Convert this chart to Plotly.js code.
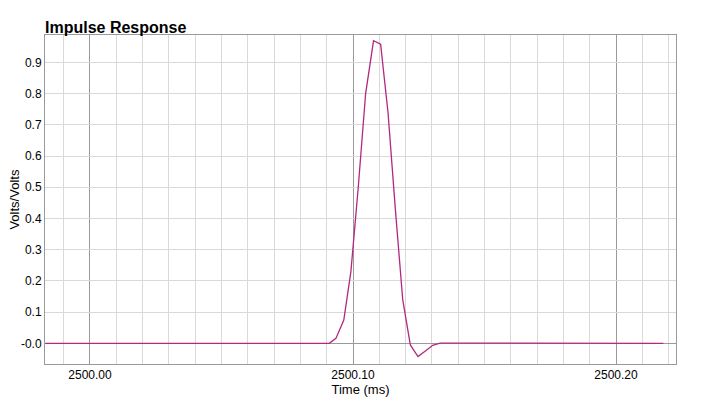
<!DOCTYPE html>
<html>
<head>
<meta charset="utf-8">
<script src="https://cdn.plot.ly/plotly-3.0.1.min.js"></script>
<style>html,body{margin:0;padding:0;background:#fff}#chart{width:709px;height:403px}</style>
</head>
<body>
<div id="chart"></div>
<script>
// Time (ms) and response (Volts/Volts)
const timeMs = [2499.9830, 2500.0910, 2500.0935, 2500.0965, 2500.0992, 2500.1020, 2500.1048,
  2500.1078, 2500.1105, 2500.1133, 2500.1161, 2500.1189, 2500.1218, 2500.1247, 2500.1274,
  2500.1303, 2500.1331, 2500.1357, 2500.1388, 2500.2180];
const response = [0, 0, 0.016, 0.075, 0.23, 0.50, 0.80,
  0.969, 0.958, 0.74, 0.43, 0.14, -0.005, -0.042, -0.025,
  -0.006, 0.001, 0.001, 0, 0];
const yTickVals = [0, 0.1, 0.2, 0.3, 0.4, 0.5, 0.6, 0.7, 0.8, 0.9];
const yTickText = ['-0.0', '0.1', '0.2', '0.3', '0.4', '0.5', '0.6', '0.7', '0.8', '0.9'];
const xTickVals = [2500.00, 2500.10, 2500.20];
const xTickText = ['2500.00', '2500.10', '2500.20'];

const font = 'Liberation Sans, Arial, sans-serif';
const trace = {
  x: timeMs, y: response, type: 'scatter', mode: 'lines',
  line: {color: '#b3287f', width: 1.3},
  hoverinfo: 'x+y'
};
const layout = {
  width: 709, height: 403,
  margin: {l: 45, r: 33, t: 35, b: 39},
  paper_bgcolor: '#fff', plot_bgcolor: '#fff',
  font: {family: font, size: 12, color: '#000'},
  showlegend: false,
  title: {text: '<b>Impulse Response</b>', font: {family: font, size: 16, color: '#000'},
    x: 0, xref: 'paper', xanchor: 'left', y: 1, yref: 'paper', yanchor: 'bottom', pad: {b: 2}},
  xaxis: {
    range: [2499.9829, 2500.2228],
    tickmode: 'array', tickvals: xTickVals, ticktext: xTickText,
    showgrid: true, gridcolor: '#9a9a9a', gridwidth: 1,
    minor: {dtick: 0.01, tick0: 2500, showgrid: true, gridcolor: '#d9d9d9', gridwidth: 1},
    zeroline: false, showline: true, mirror: true, linecolor: '#9a9a9a', linewidth: 1,
    ticks: '',
    title: {text: 'Time (ms)', font: {family: font, size: 13, color: '#000'}, standoff: 2}
  },
  yaxis: {
    range: [-0.066, 0.9875],
    tickmode: 'array', tickvals: yTickVals, ticktext: yTickText,
    showgrid: true, gridcolor: '#d9d9d9', gridwidth: 1,
    zeroline: true, zerolinecolor: '#9a9a9a', zerolinewidth: 1,
    showline: true, mirror: true, linecolor: '#9a9a9a', linewidth: 1,
    ticks: ''
  },
  annotations: [{
    text: 'Volts/Volts', textangle: -90, showarrow: false,
    xref: 'paper', yref: 'paper', x: -0.049, y: 0.5, xanchor: 'center', yanchor: 'middle',
    font: {family: font, size: 13, color: '#000'}
  }]
};
Plotly.newPlot('chart', [trace], layout, {displayModeBar: false, staticPlot: true});
</script>
</body>
</html>
